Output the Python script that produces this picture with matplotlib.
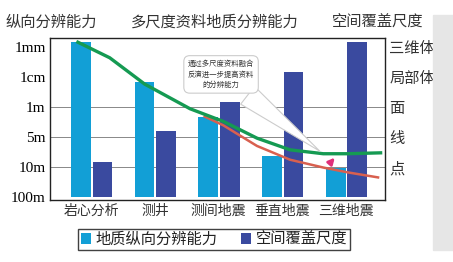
import numpy as np
import matplotlib
matplotlib.use("Agg")
import matplotlib.pyplot as plt
from matplotlib.patches import Rectangle

plt.rcParams['font.family'] = ['Noto Sans CJK SC', 'DejaVu Sans']

# 数据
categories = ["岩心分析", "测井", "测间地震", "垂直地震", "三维地震"]
vertical_res = [5.16, 3.82, 2.68, 1.37, 0.98]      # 地质纵向分辨能力
spatial_cover = [1.18, 2.19, 3.17, 4.18, 5.16]     # 空间覆盖尺度
left_ticks = ["100m", "10m", "5m", "1m", "1cm", "1mm"]
right_ticks = ["点", "线", "面", "局部体", "三维体"]

# 曲线
green_x = [-0.21, 0.29, 0.84, 1.55, 2.07, 2.60, 3.12, 3.64, 4.02, 4.54]
green_y = [5.16, 4.64, 3.76, 2.94, 2.52, 1.96, 1.57, 1.44, 1.44, 1.47]
red_x = [1.78, 2.07, 2.60, 3.12, 3.64, 4.02, 4.50]
red_y = [2.68, 2.39, 1.70, 1.24, 0.98, 0.82, 0.65]

c_cyan = '#129fd6'
c_dark = '#3a4a9f'

fig = plt.figure(figsize=(4.53, 2.62), dpi=100)
fig.patches.append(Rectangle((0.956, 0.046), 0.05, 0.897, transform=fig.transFigure,
                             color='#e6e6e6', zorder=0))
ax = fig.add_axes([0.110, 0.237, 0.740, 0.618])

x = np.arange(len(categories))
w = 0.31
ax.bar(x - 0.165, vertical_res, width=w, color=c_cyan, label="地质纵向分辨能力", zorder=2)
ax.bar(x + 0.175, spatial_cover, width=w, color=c_dark, label="空间覆盖尺度", zorder=2)

ax.plot(green_x, green_y, color='#159a52', lw=2.4, zorder=4)
ax.plot(red_x, red_y, color='#d8604f', lw=1.8, zorder=3)
ax.annotate("", xy=(3.85, 1.38), xytext=(3.72, 1.06),
            arrowprops=dict(arrowstyle='-|>', color='#e0307a', lw=2, mutation_scale=9), zorder=5)

# 注释框
ax.annotate("通过多尺度资料融合\n反演进一步提高资料\n的分辨能力", xy=(3.62, 1.47),
            xytext=(0.488, 0.716), textcoords='figure fraction',
            ha='center', va='center', fontsize=5.3, color='#333333', linespacing=1.45,
            bbox=dict(boxstyle='round,pad=0.55,rounding_size=0.8', fc='white', ec='#cccccc', lw=0.8),
            arrowprops=dict(arrowstyle='wedge,tail_width=0.9,shrink_factor=0.5', fc='white',
                            ec='#cccccc', lw=0.8, relpos=(0.78, 0.0), mutation_scale=18), zorder=6)

ax.set_xlim(-0.65, 4.61)
ax.set_ylim(-0.1, 5.3)
ax.set_yticks(range(6))
ax.set_yticklabels(left_ticks, family='Liberation Serif', fontsize=11)
ax.set_xticks(x)
ax.set_xticklabels(categories, fontsize=10, color='#333333')
ax.tick_params(length=0, pad=3)
for v in [1, 2, 3]:
    ax.axhline(v, color='#888888', lw=0.7, zorder=1)
for s in ax.spines.values():
    s.set_color('#222222')
    s.set_linewidth(1.0)

ax2 = ax.twinx()
ax2.set_ylim(ax.get_ylim())
ax2.set_yticks([1, 2, 3, 4, 5])
ax2.set_yticklabels(right_ticks, fontsize=11, color='#333333')
ax2.tick_params(length=0, pad=3)
for s in ax2.spines.values():
    s.set_visible(False)

fig.text(0.012, 0.915, "纵向分辨能力", fontsize=11, color='#333333', va='center')
fig.text(0.475, 0.915, "多尺度资料地质分辨能力", fontsize=11, color='#333333', va='center', ha='center')
fig.text(0.733, 0.915, "空间覆盖尺度", fontsize=11, color='#333333', va='center')

leg = ax.legend(loc='center', bbox_to_anchor=(0.49, -0.245), ncol=2, fontsize=11,
                frameon=True, fancybox=False, handlelength=0.7, handleheight=0.7,
                handletextpad=0.3, columnspacing=1.5, borderpad=0.15)
leg.get_frame().set_edgecolor('#111111')
leg.get_frame().set_linewidth(1.0)
for t in leg.get_texts():
    t.set_color('#222222')

fig.savefig("out.png", dpi=100)
